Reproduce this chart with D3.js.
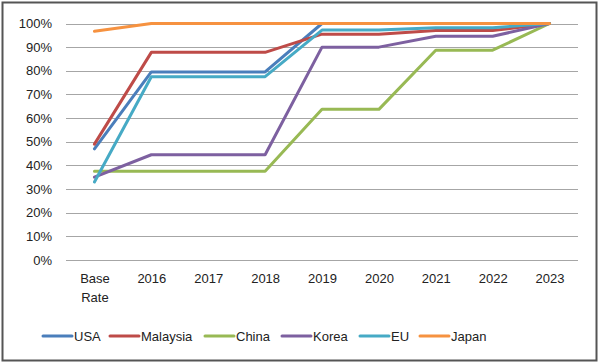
<!DOCTYPE html>
<html><head><meta charset="utf-8">
<script src="https://cdn.jsdelivr.net/npm/d3@7"></script>
<style>body{margin:0;background:#fff}svg{display:block}</style>
</head><body><svg id="c" width="600" height="364"></svg>
<script>
const categories = ["Base Rate","2016","2017","2018","2019","2020","2021","2022","2023"];
const usa      = [0.47,0.795,0.795,0.795,1.00,1.00,1.00,1.00,1.00];
const malaysia = [0.49,0.878,0.878,0.878,0.955,0.955,0.97,0.97,1.00];
const china    = [0.375,0.375,0.375,0.375,0.637,0.637,0.887,0.887,1.00];
const korea    = [0.35,0.445,0.445,0.445,0.90,0.90,0.946,0.946,1.00];
const eu       = [0.33,0.775,0.775,0.775,0.972,0.972,0.982,0.982,1.00];
const japan    = [0.967,1.00,1.00,1.00,1.00,1.00,1.00,1.00,1.00];
const seriesNames = ["USA","Malaysia","China","Korea","EU","Japan"];
const seriesValues = [usa,malaysia,china,korea,eu,japan];
const colors = ["#4A7EBB","#BE4B48","#98B954","#7D60A0","#46AAC5","#F69240"];
const yTicks = [0,0.1,0.2,0.3,0.4,0.5,0.6,0.7,0.8,0.9,1.0];

(function(){
const svg = d3.select("#c");
const font = "'Liberation Sans', Arial, sans-serif";
svg.append("rect").attr("x",2.5).attr("y",2.5).attr("width",594).attr("height",358)
  .attr("fill","#fff").attr("stroke","#555").attr("stroke-width",2);

const pL = 66, pR = 578, pT = 23.5, pB = 260;
const x = d3.scalePoint().domain(categories).range([pL, pR]).padding(0.5);
const y = d3.scaleLinear().domain([0,1]).range([pB, pT]);

svg.append("g").selectAll("line").data(yTicks).join("line")
  .attr("x1",pL).attr("x2",pR)
  .attr("y1",d=>Math.round(y(d))+0.5).attr("y2",d=>Math.round(y(d))+0.5)
  .attr("stroke","#a6a6a6").attr("stroke-width",1);

const yAxis = d3.axisLeft(y).tickValues(yTicks).tickFormat(d3.format(".0%")).tickSize(0).tickPadding(14);
const gy = svg.append("g").attr("transform",`translate(${pL},0)`).call(yAxis);
gy.select(".domain").remove();
gy.selectAll("text").attr("font-family",font).attr("font-size",13).attr("fill","#222");

const xAxis = d3.axisBottom(x).tickSize(0).tickPadding(14);
const gx = svg.append("g").attr("transform",`translate(0,${pB})`).call(xAxis);
gx.select(".domain").remove();
gx.selectAll("text").attr("font-family",font).attr("font-size",13).attr("fill","#222")
  .each(function(d){
    const words = d.split(" ");
    if (words.length > 1) {
      const t = d3.select(this); t.text(null);
      words.forEach((w,i)=> t.append("tspan").attr("x",0).attr("dy", i===0 ? "0.71em" : "1.45em").text(w));
      t.attr("dy",null);
    }
  });

const line = d3.line().x((d,i)=>x(categories[i])).y(d=>y(d));
svg.append("g").selectAll("path").data(seriesValues).join("path")
  .attr("d",line).attr("fill","none")
  .attr("stroke",(d,i)=>colors[i]).attr("stroke-width",3)
  .attr("stroke-linejoin","round").attr("stroke-linecap","round");

const legX = [43,110,205,282,360,420];
const leg = svg.append("g").selectAll("g").data(seriesNames).join("g")
  .attr("transform",(d,i)=>`translate(${legX[i]},336)`);
leg.append("line").attr("x1",0).attr("x2",29).attr("y1",0).attr("y2",0)
  .attr("stroke",(d,i)=>colors[i]).attr("stroke-width",3).attr("stroke-linecap","round");
leg.append("text").attr("x",31).attr("y",0).attr("dy","0.35em")
  .attr("font-family",font).attr("font-size",13).attr("fill","#222").text(d=>d);
})();
</script></body></html>
